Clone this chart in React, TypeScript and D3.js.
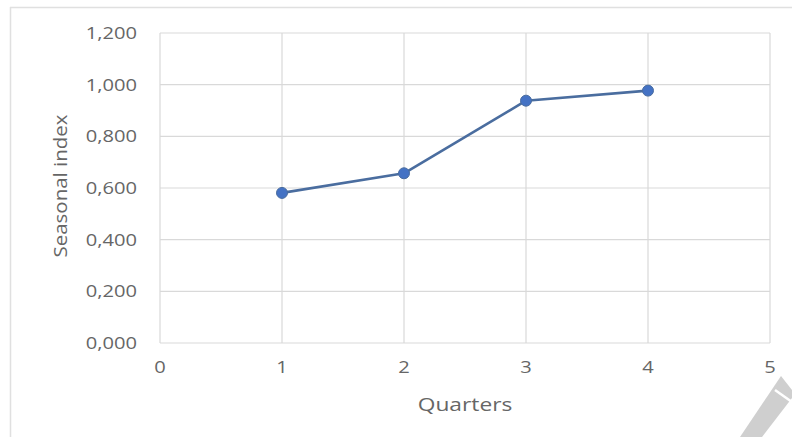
import React from "react";
import * as d3 from "d3";

// Quarterly seasonal indices
const quarters: number[] = [1, 2, 3, 4];
const seasonalIndex: number[] = [0.581, 0.657, 0.938, 0.977];
const xTicks: number[] = [0, 1, 2, 3, 4, 5];
const yTicks: number[] = [0, 0.2, 0.4, 0.6, 0.8, 1.0, 1.2];

const W = 792;
const H = 437;
const plot = { left: 160, right: 770, top: 33, bottom: 343 };

// Decimal comma with three decimals, e.g. 0,600 / 1,200
const fmtY = (v: number) => v.toFixed(3).replace(".", ",");

export default function App() {
  const x = d3.scaleLinear().domain([0, 5]).range([plot.left, plot.right]);
  const y = d3.scaleLinear().domain([0, 1.2]).range([plot.bottom, plot.top]);
  const pts = quarters.map((q, i) => [x(q), y(seasonalIndex[i])] as [number, number]);
  const line = d3.line()(pts) || "";
  const textColor = "#666666";
  const grid = "#d9d9d9";
  const font = "'Open Sans', sans-serif";
  const sx = 1.3;

  return (
    <svg
      width={W}
      height={H}
      style={{ position: "absolute", left: 0, top: 0, background: "#fff" }}
    >
      {/* chart frame */}
      <line x1={10} y1={7.5} x2={W} y2={7.5} stroke="#e0e0e0" strokeWidth={1.5} />
      <line x1={10.5} y1={7} x2={10.5} y2={H} stroke="#e0e0e0" strokeWidth={1.5} />

      {/* gridlines */}
      {yTicks.map((t) => (
        <line key={"gy" + t} x1={plot.left} x2={plot.right} y1={y(t)} y2={y(t)} stroke={grid} strokeWidth={1.2} />
      ))}
      {xTicks.map((t) => (
        <line key={"gx" + t} x1={x(t)} x2={x(t)} y1={plot.top} y2={plot.bottom} stroke={grid} strokeWidth={1.2} />
      ))}

      {/* y tick labels */}
      {yTicks.map((t) => (
        <text
          key={"ty" + t}
          transform={`translate(137,${y(t)}) scale(${sx},1)`}
          textAnchor="end"
          dominantBaseline="central"
          fontFamily={font}
          fontSize={15.5}
          fill={textColor}
        >
          {fmtY(t)}
        </text>
      ))}

      {/* x tick labels */}
      {xTicks.map((t) => (
        <text
          key={"tx" + t}
          transform={`translate(${x(t)},367) scale(${sx},1)`}
          textAnchor="middle"
          dominantBaseline="central"
          fontFamily={font}
          fontSize={15.5}
          fill={textColor}
        >
          {t}
        </text>
      ))}

      {/* axis titles */}
      <text
        transform={`translate(465,404) scale(${sx},1)`}
        textAnchor="middle"
        dominantBaseline="central"
        fontFamily={font}
        fontSize={17.5}
        fill={textColor}
      >
        Quarters
      </text>
      <text
        transform={`translate(60,186) rotate(-90)`}
        textAnchor="middle"
        dominantBaseline="central"
        fontFamily={font}
        fontSize={17.5}
        textLength={143}
        lengthAdjust="spacingAndGlyphs"
        fill={textColor}
      >
        Seasonal index
      </text>

      {/* series */}
      <path d={line} fill="none" stroke="#4a6d9f" strokeWidth={2.6} strokeLinejoin="round" />
      {pts.map((p, i) => (
        <circle key={"m" + i} cx={p[0]} cy={p[1]} r={5.5} fill="#4472c4" stroke="#4a6d9f" strokeWidth={1} />
      ))}

      {/* corner mark */}
      <polygon points="740,437 762,437 792,398 792,390 781,376" fill="#cfcfcf" />
      <line x1={775} y1={390} x2={792} y2={402} stroke="#fff" strokeWidth={2.5} />
    </svg>
  );
}
